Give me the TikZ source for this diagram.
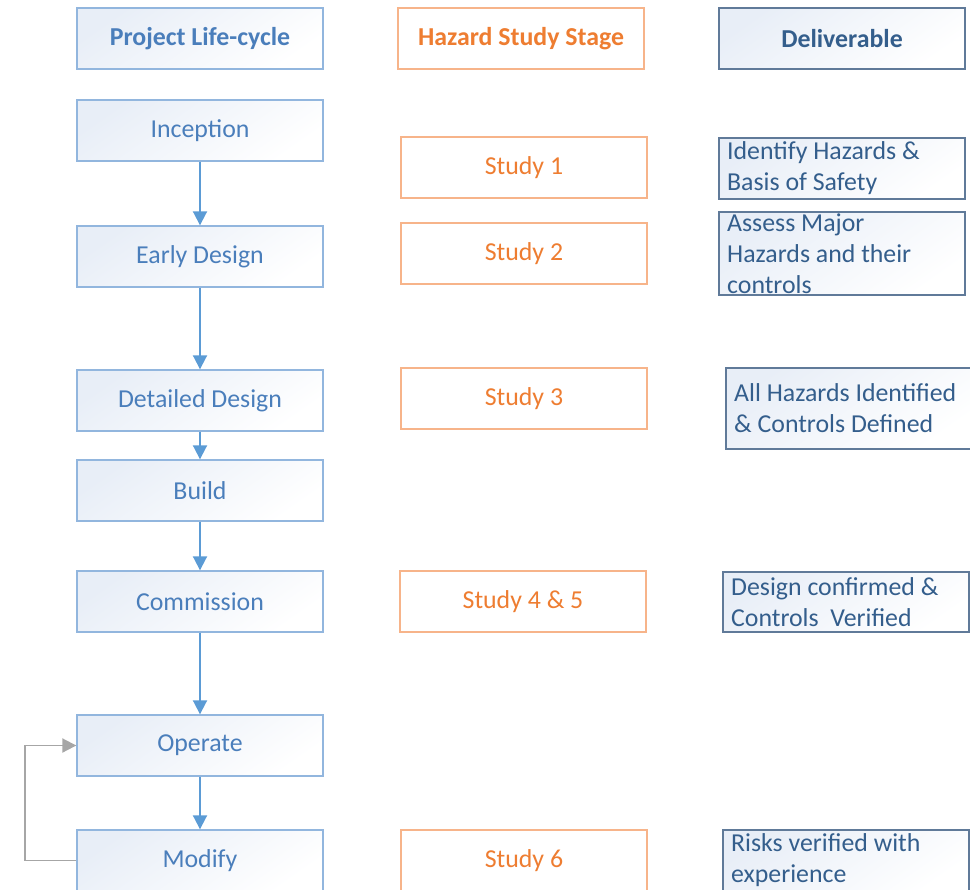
\documentclass[tikz,border=0pt]{standalone}
\usepackage{fontspec}
\setmainfont{Carlito}
\usetikzlibrary{arrows.meta}

\definecolor{lifeblue}{RGB}{74,126,187}
\definecolor{lifeline}{RGB}{146,182,222}
\definecolor{flowblue}{RGB}{91,155,213}
\definecolor{studyorange}{RGB}{238,125,49}
\definecolor{studyline}{RGB}{247,180,138}
\definecolor{delivblue}{RGB}{52,94,140}
\definecolor{delivline}{RGB}{96,122,153}
\definecolor{boxtint}{RGB}{232,238,247}
\definecolor{loopgray}{RGB}{166,166,166}

\tikzset{
  boxfont/.style={font=\fontsize{14.7}{17.6}\selectfont},
  lifebox/.style={draw=lifeline, line width=0.8pt, top color=boxtint, bottom color=white,
    shading angle=35, minimum width=4.92cm, minimum height=1.22cm, text=lifeblue, boxfont},
  studybox/.style={draw=studyline, line width=0.8pt, fill=white,
    minimum width=4.92cm, minimum height=1.22cm, text=studyorange, boxfont},
  delivbox/.style={draw=delivline, line width=0.8pt, top color=boxtint, bottom color=white,
    shading angle=35, minimum width=4.92cm, inner sep=0pt},
  delivtext/.style={anchor=west, align=left, inner xsep=0.17cm, inner ysep=0pt,
    text=delivblue, boxfont},
  flow/.style={-{Triangle[width=8pt,length=8pt]}, draw=flowblue, line width=1.1pt},
  loopback/.style={-{Triangle[width=8pt,length=8pt]}, draw=loopgray, line width=1.1pt}
}

\begin{document}
\begin{tikzpicture}[x=0.02cm, y=-0.02cm]
    \useasboundingbox (0,0) rectangle (970,889);

    % Kolomkoppen
    \node[lifebox, font=\fontsize{14.7}{17.6}\selectfont\bfseries] (head1) at (200,38.5) {Project Life-cycle};
    \node[studybox, font=\fontsize{14.7}{17.6}\selectfont\bfseries] (head2) at (521,38.5) {Hazard Study Stage};
    \node[delivbox, minimum height=1.22cm, text=delivblue, font=\fontsize{14.7}{17.6}\selectfont\bfseries] (head3) at (842,38.5) {Deliverable};

    % Projectfasen (linkerkolom)
    \node[lifebox] (inception) at (200,130.5) {Inception};
    \node[lifebox] (early)     at (200,256.5) {Early Design};
    \node[lifebox] (detailed)  at (200,400.5) {Detailed Design};
    \node[lifebox] (build)     at (200,490.5) {Build};
    \node[lifebox] (commission) at (200,601.5) {Commission};
    \node[lifebox] (operate)   at (200,745.5) {Operate};
    \node[lifebox] (modify)    at (200,860.5) {Modify};

    % Studies (middelste kolom)
    \node[studybox] (study1)  at (524,167.5) {Study 1};
    \node[studybox] (study2)  at (524,253.5) {Study 2};
    \node[studybox] (study3)  at (524,398.5) {Study 3};
    \node[studybox] (study45) at (523,601.5) {Study 4 \& 5};
    \node[studybox] (study6)  at (524,860.5) {Study 6};

    % Opleveringen (rechterkolom)
    \node[delivbox, minimum height=1.22cm] (deliv1) at (842,168.5) {};
    \node[delivtext] (text1) at (deliv1.west) {Identify Hazards \&\\Basis of Safety};
    \node[delivbox, minimum height=1.66cm] (deliv2) at (842,253.5) {};
    \node[delivtext] (text2) at (deliv2.west) {Assess Major\\Hazards and their\\controls};
    \node[delivbox, minimum height=1.62cm] (deliv3) at (849,408.5) {};
    \node[delivtext] (text3) at (deliv3.west) {All Hazards Identified\\\& Controls Defined};
    \node[delivbox, minimum height=1.2cm] (deliv45) at (846,602) {};
    \node[delivtext] (text45) at (deliv45.west) {Design confirmed \&\\Controls\ \ Verified};
    \node[delivbox, minimum height=1.22cm] (deliv6) at (846,860.5) {};
    \node[delivtext] (text6) at (deliv6.west) {Risks verified with\\experience};

    % Pijlen tussen de fasen
    \draw[flow] (inception) -- (early);
    \draw[flow] (early) -- (detailed);
    \draw[flow] (detailed) -- (build);
    \draw[flow] (build) -- (commission);
    \draw[flow] (commission) -- (operate);
    \draw[flow] (operate) -- (modify);

    % Terugkoppeling van Modify naar Operate
    \coordinate (loopcorner) at (25,860.5);
    \draw[loopback] (modify.west) -- (loopcorner) |- (operate.west);

\end{tikzpicture}
\end{document}
